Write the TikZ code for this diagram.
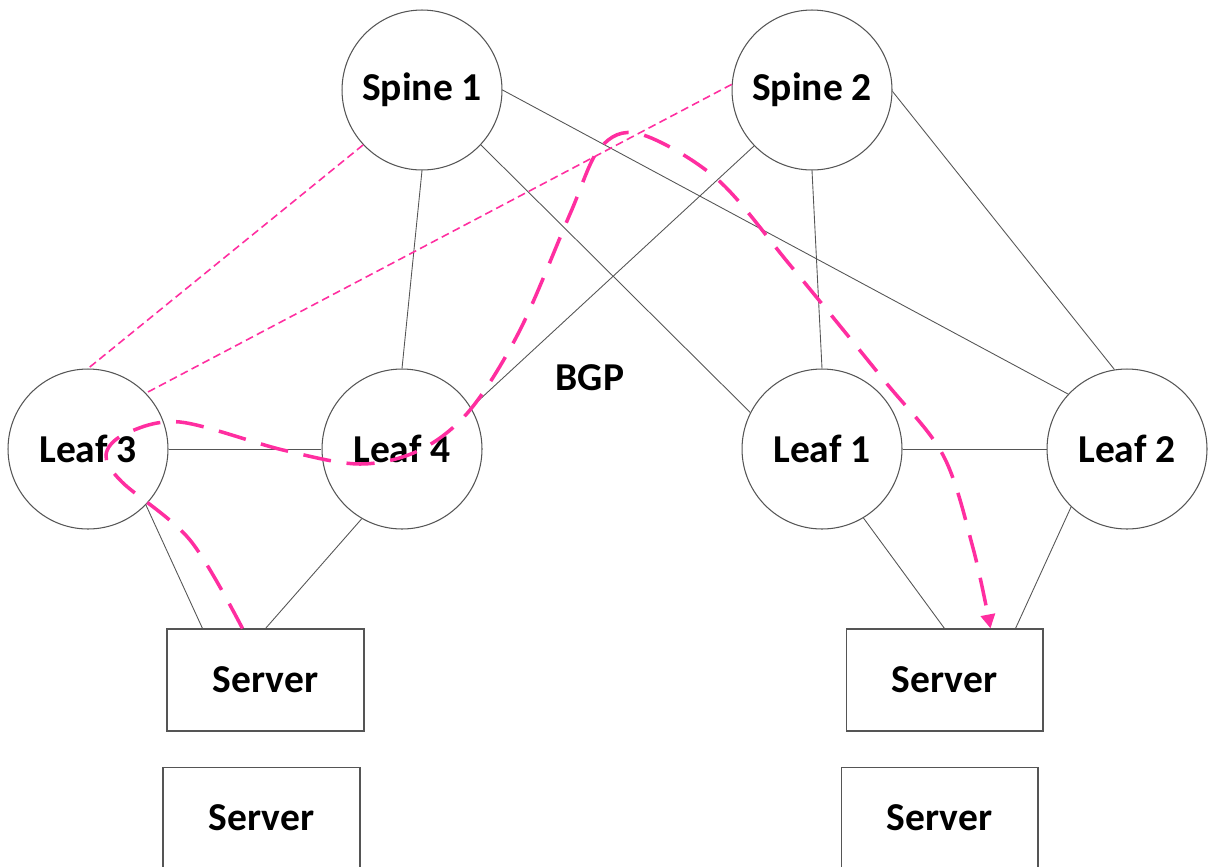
\documentclass[tikz,border=0pt]{standalone}
\usepackage{fontspec}
\setmainfont{Carlito}
\usepackage{xcolor}
\usepackage{tikz}
\usetikzlibrary{positioning,arrows.meta,calc}
\definecolor{wire}{HTML}{555555}
\definecolor{hot}{HTML}{FF2EA0}
\tikzset{
  router/.style = {circle, draw=wire, line width=0.6pt, minimum size=3.2cm, inner sep=0pt,
                   font=\bfseries\fontsize{22.5}{26}\selectfont},
  host/.style   = {rectangle, draw=wire, line width=0.6pt, minimum width=3.94cm, minimum height=2.04cm,
                   inner sep=0pt, font=\bfseries\fontsize{22.5}{26}\selectfont},
  link/.style   = {draw=wire, line width=0.5pt},
  peer/.style   = {draw=hot, line width=0.9pt, dash pattern=on 4.5pt off 2.5pt},
  trace/.style  = {draw=hot, line width=2pt, dash pattern=on 16pt off 9pt,
                   -{Triangle[length=8pt,width=8pt]}},
}
\begin{document}
\begin{tikzpicture}[x=0.02cm, y=-0.02cm]
  \useasboundingbox (0,0) rectangle (1209,866);
  \node[router] (s1) at (422,90)  {Spine 1};
  \node[router] (s2) at (812,90)  {Spine 2};
  \node[router] (l3) at (88,449)  {Leaf 3};
  \node[router] (l4) at (402,449) {Leaf 4};
  \node[router] (l1) at (822,449) {Leaf 1};
  \node[router] (l2) at (1127,449) {Leaf 2};
  \node[host] (h1) at (265.5,680) {Server};
  \node[host] (h2) at (944.5,680) {Server};
  \node[host, below=0.7cm of h1, xshift=-0.08cm] (h3) {Server};
  \node[host, below=0.7cm of h2, xshift=-0.1cm] (h4) {Server};
  \node[font=\bfseries\fontsize{22.5}{26}\selectfont] (bgp) at (590,378) {BGP};
  \draw[link] (s1.270) -- (l4.90);
  \draw[link] (s1.317) -- (l1.153);
  \draw[link] (s1.0) -- (l2.137);
  \draw[link] (s2.270) -- (l1.90);
  \draw[link] (s2.-1) -- (l2.99);
  \draw[link] (s2.224) -- (l4.31);
  \draw[link] (l3) -- (l4);
  \draw[link] (l1) -- (l2);
  \draw[link] (l3.316) -- ([xshift=-1.26cm]h1.north);
  \draw[link] (l4.240) -- (h1.north);
  \draw[link] (l1.301) -- (h2.north);
  \draw[link] (l2.226) -- ([xshift=1.42cm]h2.north);
  \draw[peer] (s1.223) -- (l3.90);
  \draw[peer] (s2.176) -- (l3.44);
  \coordinate (t0) at ([xshift=-0.46cm]h1.north);
  \coordinate (t1) at ([xshift=0.92cm]h2.north);
  \draw[trace] plot[smooth, tension=0.55] coordinates {(t0) (190,540) (122,482) (106,455) (125,434)
    (180,422) (283,450) (360,464) (420,450) (470,410) (520,330) (570,214) (600,148) (640,134)
    (717,179) (790,265) (883,379) (943,455) (973,548) (t1)};
\end{tikzpicture}
\end{document}
